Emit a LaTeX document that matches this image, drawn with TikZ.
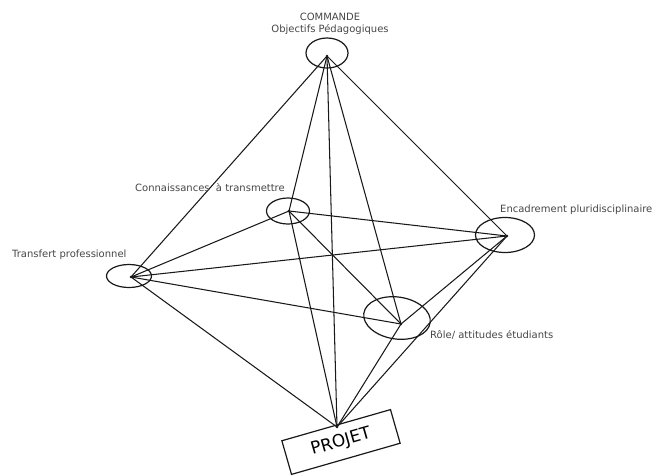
\documentclass[tikz,border=0pt]{standalone}
\usepackage{fontspec}
\setmainfont{DejaVu Sans}
\usetikzlibrary{shapes.geometric}
\begin{document}
\begin{tikzpicture}[x=1pt,y=-1pt,
  lbl/.style={font=\fontsize{10}{12.5}\selectfont, text=black!72, inner sep=0pt},
  ring/.style={draw=black!90, line width=1.2pt, ellipse, inner sep=0pt},
  edge/.style={draw=black!90, line width=1.05pt},
  projbox/.style={draw=black!90, line width=1.2pt, minimum width=113pt, minimum height=35pt, inner sep=0pt, rotate=16, font=\fontsize{17}{19}\selectfont}
]
\useasboundingbox (0,0) rectangle (656,475);
\fill[white] (0,0) rectangle (656,475);
% ellipses
\node[ring, minimum width=42pt, minimum height=30pt] (et) at (327,53) {};
\node[ring, minimum width=43pt, minimum height=26pt] (ec) at (288,211) {};
\node[ring, minimum width=45pt, minimum height=23pt] (el) at (129,276) {};
\node[ring, minimum width=59pt, minimum height=35pt] (ee) at (505,235) {};
\node[ring, minimum width=67pt, minimum height=42pt, rotate=-8] (er) at (397,318) {};
\node[projbox] (proj) at (341,442) {PROJET};
% points
\coordinate (t) at (327,56);
\coordinate (c) at (289,211);
\coordinate (l) at (131,277);
\coordinate (e) at (507,236);
\coordinate (r) at (401,324);
\coordinate (p) at (337,427);
\foreach \a in {t,c,l,e,r,p}{\fill[black!90] (\a) circle (1.4pt);}
% connectors
\draw[edge] (t) -- (c);
\draw[edge] (t) -- (l);
\draw[edge] (t) -- (e);
\draw[edge] (t) -- (r);
\draw[edge] (t) -- (p);
\draw[edge] (c) -- (l);
\draw[edge] (c) -- (e);
\draw[edge] (c) -- (r);
\draw[edge] (c) -- (p);
\draw[edge] (l) -- (e);
\draw[edge] (l) -- (r);
\draw[edge] (l) -- (p);
\draw[edge] (e) -- (r);
\draw[edge] (e) -- (p);
\draw[edge] (r) -- (p);
% labels
\node[lbl, align=center] (lt) at (330,24) {COMMANDE\\Objectifs Pédagogiques};
\node[lbl, anchor=west] (lc) at (135,188) {Connaissances \ à transmettre};
\node[lbl, anchor=west] (ll) at (12,255) {Transfert professionnel};
\node[lbl, anchor=west] (le) at (500,210) {Encadrement pluridisciplinaire};
\node[lbl, anchor=west] (lr) at (430,335) {Rôle/ attitudes étudiants};
\end{tikzpicture}
\end{document}
